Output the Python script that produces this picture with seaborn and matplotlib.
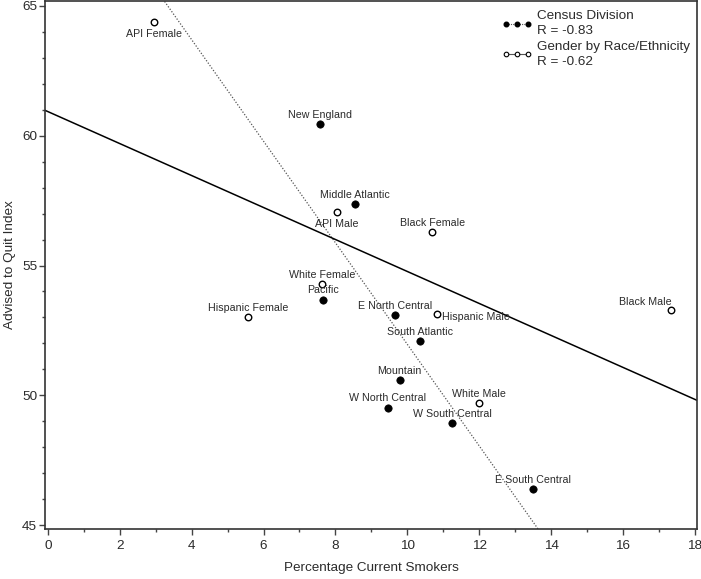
import numpy as np
import pandas as pd
import matplotlib
matplotlib.use("Agg")
import matplotlib.pyplot as plt
import seaborn as sns
from matplotlib.lines import Line2D
from matplotlib.ticker import MultipleLocator

# =========================
# Datos
# =========================
division_names = ["New England", "Middle Atlantic", "Pacific", "E North Central",
                  "South Atlantic", "Mountain", "W North Central", "W South Central",
                  "E South Central"]
division_smokers = [7.56, 8.55, 7.65, 9.65, 10.34, 9.79, 9.45, 11.25, 13.49]
division_quit = [60.45, 57.37, 53.69, 53.08, 52.08, 50.60, 49.53, 48.95, 46.38]

group_names = ["API Female", "API Male", "Black Female", "White Female",
               "Hispanic Male", "Hispanic Female", "Black Male", "White Male"]
group_smokers = [2.95, 8.04, 10.69, 7.64, 10.84, 5.58, 17.33, 11.99]
group_quit = [64.40, 57.08, 56.28, 54.30, 53.12, 53.01, 53.30, 49.72]

legend_labels = ["Census Division\nR = -0.83", "Gender by Race/Ethnicity\nR = -0.62"]

df_div = pd.DataFrame({"x": division_smokers, "y": division_quit, "name": division_names})
df_grp = pd.DataFrame({"x": group_smokers, "y": group_quit, "name": group_names})

# =========================
# Estilo
# =========================
sns.set_style("ticks")
plt.rcParams["font.family"] = ["Liberation Sans", "DejaVu Sans"]
dark = "#2b2b2b"

fig = plt.figure(figsize=(7.01, 5.79), dpi=100)
ax = fig.add_axes([45 / 701, 1 - 529 / 579, (697 - 45) / 701, 528 / 579])
ax.set_xlim(-0.08, 18.06)
ax.set_ylim(44.85, 65.19)

# rectas de regresion
sns.regplot(data=df_div, x="x", y="y", scatter=False, ci=None, truncate=False,
            line_kws=dict(color="#555555", lw=0.9, ls=(0, (1, 1.4))), ax=ax)
sns.regplot(data=df_grp, x="x", y="y", scatter=False, ci=None, truncate=False,
            line_kws=dict(color="black", lw=1.1), ax=ax)

# puntos
sns.scatterplot(data=df_div, x="x", y="y", color="black", edgecolor="black",
                s=28, linewidth=0.5, ax=ax, zorder=4)
sns.scatterplot(data=df_grp, x="x", y="y", color="white", edgecolor="black",
                s=22, linewidth=1.0, ax=ax, zorder=4)

# etiquetas de puntos
posiciones = {"API Female": ((0, -9), "center"), "API Male": ((0, -9), "center"),
              "Hispanic Male": ((3.5, -2), "left"), "Black Male": ((0.5, 5.5), "right")}
for df in (df_div, df_grp):
    for _, fila in df.iterrows():
        off, ha = posiciones.get(fila["name"], ((0, 6.5), "center"))
        ax.annotate(fila["name"], (fila["x"], fila["y"]), xytext=off,
                    textcoords="offset points", ha=ha, va="center",
                    fontsize=7.7, color=dark, zorder=5)

ax.set_xlim(-0.08, 18.06)
ax.set_ylim(44.85, 65.19)
ax.xaxis.set_major_locator(MultipleLocator(2))
ax.xaxis.set_minor_locator(MultipleLocator(1))
ax.yaxis.set_major_locator(MultipleLocator(5))
ax.yaxis.set_minor_locator(MultipleLocator(1))
ax.tick_params(which="major", length=4, width=1, color="#444444",
               labelsize=9.7, labelcolor=dark)
ax.tick_params(which="minor", length=2.5, width=1, color="#444444")
ax.tick_params(axis="x", which="major", pad=4)
ax.tick_params(axis="y", which="major", pad=1.5)
for sp in ax.spines.values():
    sp.set_color("#333333")
    sp.set_linewidth(1.2)

ax.set_xlabel("Percentage Current Smokers", fontsize=9.7, color=dark, labelpad=7)
ax.set_ylabel("Advised to Quit Index", fontsize=9.7, color=dark, labelpad=4.5)

# leyenda
handles = [Line2D([], [], color="#555555", ls=(0, (1, 1.0)), lw=0.8, marker="o",
                  markersize=3.3, markerfacecolor="black", markeredgecolor="black"),
           Line2D([], [], color="#555555", ls="-", lw=0.8, marker="o",
                  markersize=3.3, markerfacecolor="white", markeredgecolor="black",
                  markeredgewidth=0.8)]
leg = ax.legend(handles, legend_labels, loc="upper left",
                bbox_to_anchor=(0.687, 1.0), frameon=False, numpoints=3,
                fontsize=9.7, handlelength=2.2, handletextpad=0.4,
                labelspacing=0.25, borderaxespad=0.3)
for t in leg.get_texts():
    t.set_linespacing(1.32)
    t.set_color(dark)

fig.savefig("out.png", dpi=100)
